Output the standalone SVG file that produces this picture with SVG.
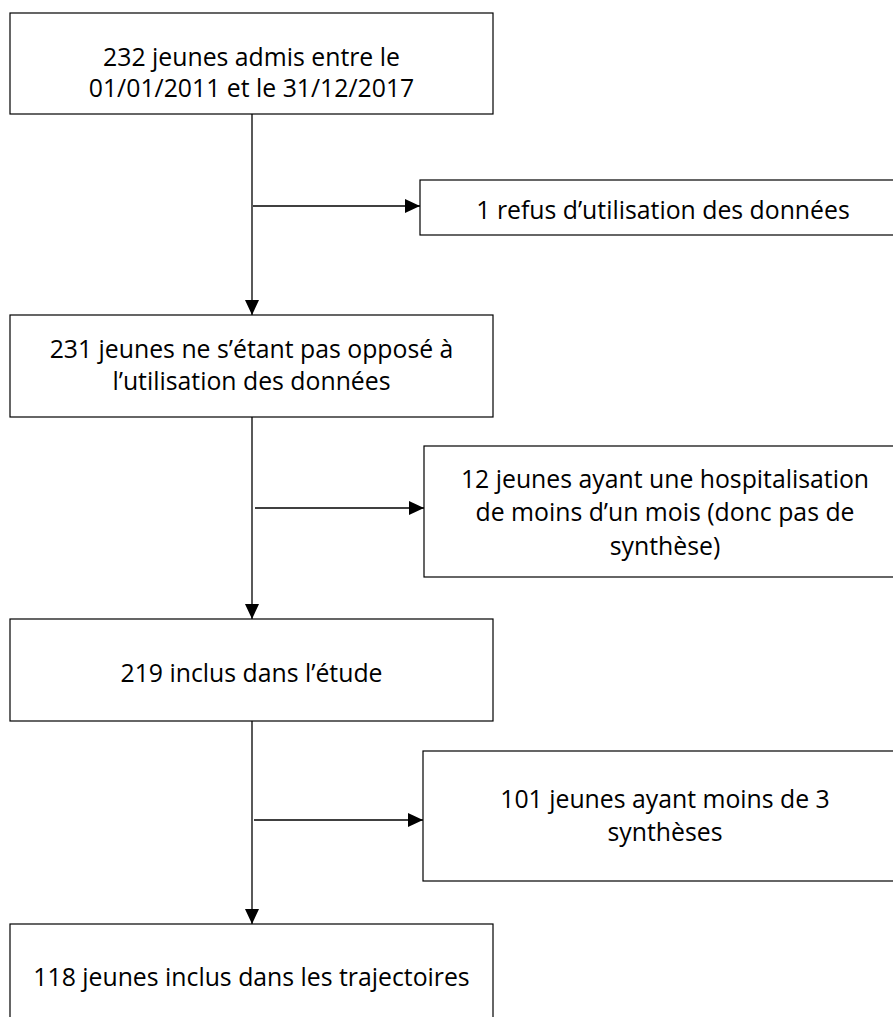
<svg xmlns="http://www.w3.org/2000/svg" width="893" height="1017" viewBox="0 0 893 1017">
<style>
.box{fill:#fff;stroke:#000;stroke-width:1.2}
.t{font-family:"Open Sans","Noto Sans","DejaVu Sans",sans-serif;font-size:24.8px;fill:#000;text-anchor:middle}
.c{stroke:#000;stroke-width:1.3;fill:none}
</style>
<defs>
<marker id="ah" markerWidth="15" markerHeight="14" refX="15" refY="7" orient="auto" markerUnits="userSpaceOnUse">
<path d="M0,0 L15,7 L0,14 Z" fill="#000"/>
</marker>
</defs>
<rect width="893" height="1017" fill="#fff"/>
<g id="connectors">
<line class="c" x1="252" y1="114" x2="252" y2="315" marker-end="url(#ah)"/>
<line class="c" x1="253" y1="206" x2="420" y2="206" marker-end="url(#ah)"/>
<line class="c" x1="252" y1="417" x2="252" y2="619" marker-end="url(#ah)"/>
<line class="c" x1="255" y1="508" x2="424" y2="508" marker-end="url(#ah)"/>
<line class="c" x1="252" y1="721" x2="252" y2="924" marker-end="url(#ah)"/>
<line class="c" x1="254" y1="820" x2="423" y2="820" marker-end="url(#ah)"/>
</g>
<g id="n1">
<rect class="box" x="10" y="13" width="483" height="101"/>
<text class="t" x="251.5" y="66">232 jeunes admis entre le</text>
<text class="t" x="251.5" y="97">01/01/2011 et le 31/12/2017</text>
</g>
<g id="n2">
<rect class="box" x="420" y="180" width="486" height="55"/>
<text class="t" x="663" y="219">1 refus d’utilisation des données</text>
</g>
<g id="n3">
<rect class="box" x="10" y="315" width="483" height="102"/>
<text class="t" x="251.5" y="358">231 jeunes ne s’étant pas opposé à</text>
<text class="t" x="251.5" y="390">l’utilisation des données</text>
</g>
<g id="n4">
<rect class="box" x="424" y="446" width="482" height="131"/>
<text class="t" x="665" y="488">12 jeunes ayant une hospitalisation</text>
<text class="t" x="665" y="521">de moins d’un mois (donc pas de</text>
<text class="t" x="665" y="555">synthèse)</text>
</g>
<g id="n5">
<rect class="box" x="10" y="619" width="483" height="102"/>
<text class="t" x="251.5" y="682">219 inclus dans l’étude</text>
</g>
<g id="n6">
<rect class="box" x="423" y="751" width="483" height="130"/>
<text class="t" x="665" y="808">101 jeunes ayant moins de 3</text>
<text class="t" x="665" y="841">synthèses</text>
</g>
<g id="n7">
<rect class="box" x="10" y="924" width="483" height="102"/>
<text class="t" x="251.5" y="986">118 jeunes inclus dans les trajectoires</text>
</g>
</svg>
